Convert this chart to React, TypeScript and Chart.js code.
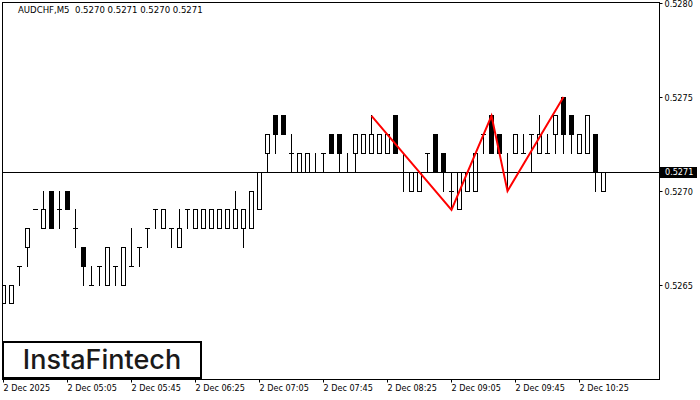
import React, { useEffect, useRef } from 'react';
import { Chart, registerables } from 'chart.js';

Chart.register(...registerables);

const opens = [
  0.5264, 0.5264, 0.5266, 0.5267, 0.5269, 0.5268, 0.527, 0.5269, 0.527, 0.5268,
  0.5267, 0.5265, 0.5266, 0.5265, 0.5266, 0.5265, 0.5266, 0.5267, 0.5268, 0.5269,
  0.5268, 0.5268, 0.5267, 0.5269, 0.5268, 0.5268, 0.5268, 0.5268, 0.5268, 0.5268,
  0.5268, 0.5268, 0.5269, 0.5272, 0.5274, 0.5274, 0.5272, 0.5271, 0.5271, 0.5271,
  0.5272, 0.5273, 0.5273, 0.5271, 0.5272, 0.5272, 0.5272, 0.5272, 0.5272, 0.5274,
  0.5271, 0.527, 0.527, 0.5272, 0.5273, 0.5272, 0.527, 0.5269, 0.527, 0.527,
  0.5273, 0.5274, 0.5273, 0.5271, 0.5272, 0.5272, 0.5273, 0.5272, 0.5272, 0.5273,
  0.5275, 0.5274, 0.5272, 0.5272, 0.5273, 0.527,
];
const highs = [
  0.5265, 0.5265, 0.5266, 0.5268, 0.5269, 0.527, 0.527, 0.527, 0.527, 0.5269,
  0.5267, 0.5266, 0.5266, 0.5267, 0.5266, 0.5267, 0.5268, 0.5267, 0.5268, 0.5269,
  0.5269, 0.5268, 0.5269, 0.5269, 0.5269, 0.5269, 0.5269, 0.5269, 0.5269, 0.527,
  0.5269, 0.527, 0.5271, 0.5273, 0.5274, 0.5274, 0.5273, 0.5272, 0.5272, 0.5272,
  0.5272, 0.5273, 0.5273, 0.5272, 0.5273, 0.5273, 0.5274, 0.5273, 0.5273, 0.5274,
  0.5272, 0.5271, 0.5271, 0.5272, 0.5273, 0.5272, 0.5271, 0.5271, 0.5271, 0.5272,
  0.5273, 0.5274, 0.5273, 0.5272, 0.5273, 0.5273, 0.5273, 0.5274, 0.5273, 0.5274,
  0.5275, 0.5274, 0.5273, 0.5274, 0.5273, 0.5271,
];
const lows = [
  0.5264, 0.5264, 0.5265, 0.5266, 0.5269, 0.5268, 0.5268, 0.5268, 0.5269, 0.5267,
  0.5265, 0.5265, 0.5265, 0.5265, 0.5265, 0.5265, 0.5266, 0.5266, 0.5267, 0.5268,
  0.5268, 0.5267, 0.5267, 0.5268, 0.5268, 0.5268, 0.5268, 0.5268, 0.5268, 0.5268,
  0.5267, 0.5268, 0.5269, 0.5271, 0.5272, 0.5273, 0.5271, 0.5271, 0.5271, 0.5271,
  0.5271, 0.5272, 0.5271, 0.5271, 0.5271, 0.5272, 0.5272, 0.5272, 0.5272, 0.5272,
  0.527, 0.527, 0.527, 0.5271, 0.5271, 0.527, 0.5269, 0.5269, 0.527, 0.527,
  0.5272, 0.5272, 0.5272, 0.527, 0.5272, 0.5272, 0.5271, 0.5272, 0.5272, 0.5272,
  0.5272, 0.5272, 0.5272, 0.5272, 0.527, 0.527,
];
const closes = [
  0.5265, 0.5265, 0.5266, 0.5268, 0.5269, 0.5269, 0.5268, 0.5269, 0.5269, 0.5268,
  0.5266, 0.5265, 0.5266, 0.5267, 0.5266, 0.5267, 0.5266, 0.5267, 0.5268, 0.5269,
  0.5269, 0.5268, 0.5268, 0.5269, 0.5269, 0.5269, 0.5269, 0.5269, 0.5269, 0.5269,
  0.5269, 0.527, 0.5271, 0.5273, 0.5273, 0.5273, 0.5272, 0.5272, 0.5272, 0.5271,
  0.5272, 0.5272, 0.5272, 0.5271, 0.5273, 0.5273, 0.5273, 0.5273, 0.5273, 0.5272,
  0.5271, 0.5271, 0.5271, 0.5272, 0.5271, 0.5271, 0.527, 0.5271, 0.5271, 0.5272,
  0.5273, 0.5272, 0.5272, 0.5271, 0.5273, 0.5272, 0.5273, 0.5273, 0.5272, 0.5274,
  0.5273, 0.5273, 0.5273, 0.5274, 0.5271, 0.5271,
];

// red pattern line: bar index and price of each turning point
const patternBars = [46, 56, 61, 63, 70];
const patternPrices = [0.5274, 0.5269, 0.5274, 0.527, 0.5275];

const xTickBars = [0, 8, 16, 24, 32, 40, 48, 56, 64, 72];
const xTickLabels = [
  '2 Dec 2025', '2 Dec 05:05', '2 Dec 05:45', '2 Dec 06:25', '2 Dec 07:05',
  '2 Dec 07:45', '2 Dec 08:25', '2 Dec 09:05', '2 Dec 09:45', '2 Dec 10:25',
];
const yTicks = [0.528, 0.5275, 0.527, 0.5265];

const currentPrice = 0.5271;
const titleText = 'AUDCHF,M5  0.5270 0.5271 0.5270 0.5271';
const logoText = 'InstaFintech';

const xMin = -0.125;
const xMax = 82;
const yMin = 0.52599787;
const yMax = 0.52800319;

const axisFont = { family: '"DejaVu Sans Condensed", "DejaVu Sans"', size: 9 };

// MT4 paints on whole pixels, so push the bars and the price line onto the pixel grid
const snapPlugin = {
  id: 'snap',
  afterDatasetsUpdate(chart: any) {
    chart.data.datasets.forEach((ds: any, i: number) => {
      const meta = chart.getDatasetMeta(i);
      if (ds.type === 'bar') {
        meta.data.forEach((el: any) => {
          const top = Math.floor(Math.min(el.y, el.base));
          const bottom = Math.floor(Math.max(el.y, el.base)) + 1;
          el.y = top;
          el.base = bottom;
          el.height = bottom - top;
        });
      } else if (ds.label === 'price') {
        meta.data.forEach((el: any) => {
          el.y = Math.floor(el.y) + 0.5;
        });
      }
    });
  },
};

const overlayPlugin = {
  id: 'overlay',
  beforeDraw(chart: any) {
    // the canvas is opaque, so paint the white page first
    chart.ctx.save();
    chart.ctx.fillStyle = '#fff';
    chart.ctx.fillRect(0, 0, chart.width, chart.height);
    chart.ctx.restore();
  },
  afterDraw(chart: any) {
    const { ctx, chartArea, scales } = chart;
    ctx.save();

    ctx.strokeStyle = '#000';
    ctx.lineWidth = 1;
    ctx.strokeRect(chartArea.left, chartArea.top, chartArea.right - chartArea.left, chartArea.bottom - chartArea.top);

    ctx.fillStyle = '#000';
    ctx.font = `9.5px ${axisFont.family}`;
    ctx.textBaseline = 'middle';
    ctx.textAlign = 'left';
    ctx.fillText(titleText, 18, 11);

    // current price tag on the axis
    const py = Math.floor(scales.y.getPixelForValue(currentPrice));
    ctx.font = `${axisFont.size}px ${axisFont.family}`;
    ctx.fillStyle = '#000';
    ctx.fillRect(660, py - 5, 37, 11);
    ctx.fillStyle = '#fff';
    ctx.fillText(currentPrice.toFixed(4), 665, py + 0.5);

    // logo box
    ctx.fillStyle = '#fff';
    ctx.fillRect(3, 342, 198, 36);
    ctx.strokeStyle = '#000';
    ctx.lineWidth = 2;
    ctx.strokeRect(3, 342, 198, 36);
    ctx.fillStyle = '#1a1a1a';
    ctx.font = '500 27px Inter';
    ctx.textAlign = 'center';
    ctx.textBaseline = 'alphabetic';
    ctx.fillText(logoText, 102, 369);

    ctx.restore();
  },
};

const App: React.FC = () => {
  const canvasRef = useRef<HTMLCanvasElement | null>(null);

  useEffect(() => {
    if (!canvasRef.current) return;
    const ctx = canvasRef.current.getContext('2d', { alpha: false });
    if (!ctx) return;

    const wicks = highs.map((h, i) => ({ x: i, y: [lows[i], h] }));
    const bodies = opens.map((o, i) => ({ x: i, y: [Math.min(o, closes[i]), Math.max(o, closes[i])] }));
    const bodyColors = opens.map((o, i) => (closes[i] < o ? '#000' : '#fff'));

    const chart = new Chart(ctx, {
      type: 'bar',
      data: {
        datasets: [
          {
            type: 'line',
            label: 'pattern',
            data: patternBars.map((b, i) => ({ x: b, y: patternPrices[i] })),
            borderColor: '#ff0000',
            borderWidth: 2,
            pointRadius: 0,
            tension: 0,
            order: 0,
          },
          {
            type: 'line',
            label: 'price',
            data: [{ x: xMin, y: currentPrice }, { x: xMax, y: currentPrice }],
            borderColor: '#000',
            borderWidth: 1,
            pointRadius: 0,
            order: 1,
          },
          {
            type: 'bar',
            label: 'bodies',
            data: bodies,
            backgroundColor: bodyColors,
            borderColor: '#000',
            borderWidth: 1,
            borderSkipped: false,
            inflateAmount: 0,
            maxBarThickness: 5,
            barPercentage: 1,
            grouped: false,
            order: 2,
          },
          {
            type: 'bar',
            label: 'wicks',
            data: wicks,
            backgroundColor: '#000',
            borderWidth: 0,
            inflateAmount: 0,
            maxBarThickness: 1,
            barPercentage: 1,
            grouped: false,
            order: 3,
          },
        ] as any,
      },
      options: {
        responsive: false,
        animation: false,
        events: [],
        layout: { padding: { left: 2.5, top: 2.5, right: 0, bottom: 0 } },
        plugins: { legend: { display: false }, tooltip: { enabled: false }, title: { display: false } },
        scales: {
          x: {
            type: 'linear',
            min: xMin,
            max: xMax,
            offset: false,
            grid: { offset: false, drawOnChartArea: false, tickLength: 3, color: '#000' },
            border: { color: '#000' },
            afterBuildTicks: (scale: any) => {
              scale.ticks = xTickBars.map((v) => ({ value: v }));
            },
            afterFit: (scale: any) => {
              scale.height = 20.5;
              scale.paddingLeft = 0;
              scale.paddingRight = 0;
            },
            ticks: {
              autoSkip: false,
              maxRotation: 0,
              align: 'start',
              padding: 1,
              color: '#000',
              font: axisFont,
              callback: (_v: any, i: number) => xTickLabels[i],
            },
          },
          y: {
            type: 'linear',
            position: 'right',
            min: yMin,
            max: yMax,
            grid: { drawOnChartArea: false, tickLength: 3, color: '#000' },
            border: { color: '#000' },
            afterBuildTicks: (scale: any) => {
              scale.ticks = yTicks.map((v) => ({ value: v }));
            },
            afterFit: (scale: any) => {
              scale.width = 40.5;
              scale.paddingTop = 0;
              scale.paddingBottom = 0;
            },
            ticks: {
              padding: 2,
              labelOffset: 2,
              color: '#000',
              font: axisFont,
              callback: (v: any) => Number(v).toFixed(4),
            },
          },
        },
      },
      plugins: [snapPlugin, overlayPlugin],
    } as any);

    return () => chart.destroy();
  }, []);

  return (
    <div style={{ position: 'fixed', left: 0, top: 0, width: 700, height: 400, background: '#fff' }}>
      <canvas ref={canvasRef} width={700} height={400} style={{ display: 'block' }} />
    </div>
  );
};

export default App;
